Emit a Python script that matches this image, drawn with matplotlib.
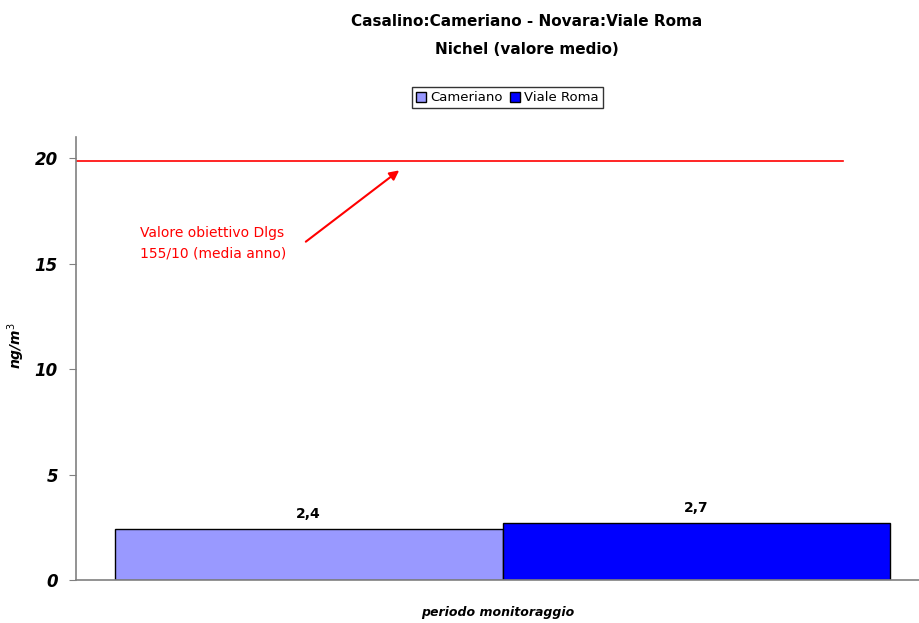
import matplotlib.pyplot as plt

# chart data
series = ["Cameriano", "Viale Roma"]
values = [2.4, 2.7]
value_labels = ["2,4", "2,7"]
colors = ["#9999ff", "#0000ff"]
target_value = 19.85
y_ticks = [0, 5, 10, 15, 20]

fig = plt.figure(figsize=(9.19, 6.23), dpi=100)
ax = fig.add_axes([0.0827, 0.069, 0.9173, 0.711])

width = 0.46
positions = [-width / 2, width / 2]
bars = []
for pos, val, lab, col, name in zip(positions, values, value_labels, colors, series):
    b = ax.bar(pos, val, width=width, color=col, edgecolor="black", linewidth=1, label=name)
    bars.append(b)
    ax.annotate(lab, (pos, val), xytext=(0, 6), textcoords="offset points",
                ha="center", va="bottom", fontsize=10, fontweight="bold")

ax.axhline(target_value, xmin=0, xmax=0.91, color="red", linewidth=1.2)
ax.annotate("", xy=(-0.12, 19.5), xytext=(-0.236, 15.96),
            arrowprops=dict(arrowstyle="-|>", color="red", lw=1.5, mutation_scale=14))
ax.text(-0.43, 15.95, "Valore obiettivo Dlgs\n155/10 (media anno)", color="red",
        fontsize=10, ha="left", va="center", linespacing=1.6)

ax.set_xlim(-0.506, 0.494)
ax.set_ylim(0, 21)
ax.set_yticks(y_ticks)
ax.set_yticklabels([str(t) for t in y_ticks], fontsize=12, fontweight="bold", style="italic")
ax.set_xticks([])
for s in ["top", "right"]:
    ax.spines[s].set_visible(False)
for s in ["left", "bottom"]:
    ax.spines[s].set_color("#808080")
    ax.spines[s].set_linewidth(1.2)
ax.tick_params(axis="y", direction="out", length=5, color="#808080", pad=8)

ax.set_ylabel("ng/m$^3$", fontsize=10, fontweight="bold", style="italic")
ax.yaxis.set_label_coords(-0.058, 0.53)
ax.set_xlabel("periodo monitoraggio", fontsize=9, fontweight="bold", style="italic", labelpad=19)

fig.text(0.573, 0.965, "Casalino:Cameriano - Novara:Viale Roma", ha="center", va="center",
         fontsize=11, fontweight="bold")
fig.text(0.573, 0.92, "Nichel (valore medio)", ha="center", va="center",
         fontsize=11, fontweight="bold")

fig.legend(handles=[b[0] for b in bars], labels=series, loc="center",
           bbox_to_anchor=(0.552, 0.843), ncol=2, frameon=True, fancybox=False,
           edgecolor="black", fontsize=9.5, handlelength=0.8, handleheight=0.8,
           handletextpad=0.3, columnspacing=0.5, borderpad=0.3)

fig.savefig("out.png", dpi=100)
